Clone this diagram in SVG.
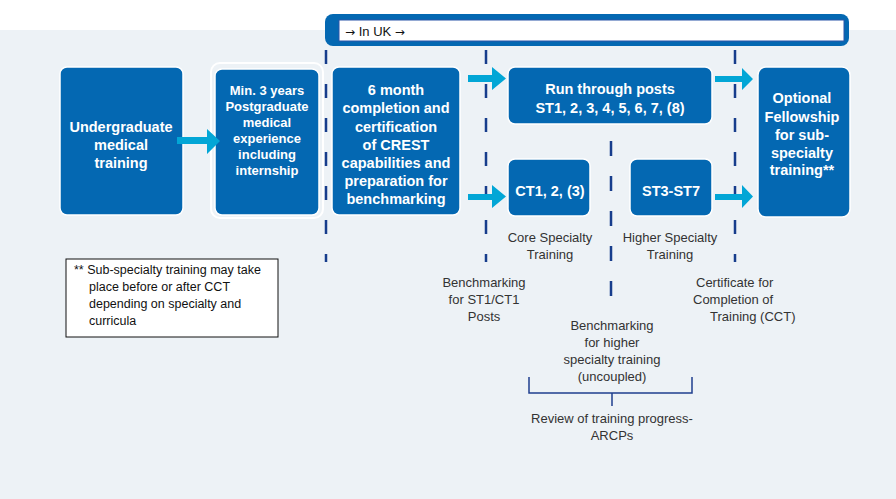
<svg xmlns="http://www.w3.org/2000/svg" width="896" height="499" viewBox="0 0 896 499">
<style>
.box{fill:#0468b2;stroke:#ffffff;stroke-width:1.5}
.bt{font-family:"Liberation Sans",Arial,sans-serif;font-weight:bold;font-size:14.5px;fill:#ffffff;text-anchor:middle}
.bs{font-size:13px}
.lbl{font-family:"Liberation Sans",Arial,sans-serif;font-size:13px;fill:#333333;text-anchor:middle}
.fn{font-family:"Liberation Sans",Arial,sans-serif;font-size:12.5px;fill:#111111}
.dash{stroke:#173d8c;stroke-width:2.5;stroke-dasharray:14 20;fill:none}
.arr{fill:#02a6d6}
.br{stroke:#1f3f8f;stroke-width:1.5;fill:none}
</style>
<rect x="0" y="0" width="896" height="499" fill="#ffffff"/>
<rect x="0" y="30" width="896" height="469" fill="#edf2f6"/>

<g id="in-uk">
<rect x="325" y="14" width="524" height="32" rx="8" fill="#0468b2"/>
<rect x="339" y="20" width="505" height="21" fill="#ffffff" stroke="#2a55a8" stroke-width="1"/>
<text x="345" y="36" font-family="Liberation Sans, Arial, sans-serif" font-size="13" fill="#111111"><tspan font-family="DejaVu Sans, sans-serif" font-size="12">→</tspan> In UK <tspan font-family="DejaVu Sans, sans-serif" font-size="12">→</tspan></text>
</g>

<g id="dividers">
<line class="dash" x1="326" y1="50" x2="326" y2="262"/>
<line class="dash" x1="486" y1="50" x2="486" y2="262"/>
<line class="dash" x1="735" y1="50" x2="735" y2="262"/>
<line class="dash" x1="611" y1="141" x2="611" y2="298" style="stroke-dasharray:15 20"/>
</g>

<g id="undergrad">
<rect class="box" x="60" y="67" width="123" height="148" rx="7"/>
<text class="bt"><tspan x="121" y="132">Undergraduate</tspan><tspan x="121" y="150">medical</tspan><tspan x="121" y="168">training</tspan></text>
</g>

<g id="min3years">
<rect x="211" y="63" width="112" height="155" rx="9" fill="none" stroke="#ffffff" stroke-width="2"/>
<rect class="box" x="215" y="69" width="104" height="146" rx="7" stroke="none"/>
<text class="bt bs"><tspan x="267" y="95">Min. 3 years</tspan><tspan x="267" y="111">Postgraduate</tspan><tspan x="267" y="127">medical</tspan><tspan x="267" y="143">experience</tspan><tspan x="267" y="159">including</tspan><tspan x="267" y="175">internship</tspan></text>
</g>

<g id="crest">
<rect class="box" x="332" y="67" width="128" height="148" rx="7"/>
<text class="bt"><tspan x="396" y="95">6 month</tspan><tspan x="396" y="113">completion and</tspan><tspan x="396" y="132">certification</tspan><tspan x="396" y="150">of CREST</tspan><tspan x="396" y="168">capabilities and</tspan><tspan x="396" y="186">preparation for</tspan><tspan x="396" y="204">benchmarking</tspan></text>
</g>

<g id="runthrough">
<rect class="box" x="508" y="67" width="204" height="57" rx="7"/>
<text class="bt"><tspan x="610" y="94">Run through posts</tspan><tspan x="610" y="113">ST1, 2, 3, 4, 5, 6, 7, (8)</tspan></text>
</g>

<g id="ct">
<rect class="box" x="508" y="159" width="82" height="57" rx="7"/>
<text class="bt" x="550" y="196">CT1, 2, (3)</text>
</g>

<g id="st3">
<rect class="box" x="630" y="159" width="82" height="57" rx="7"/>
<text class="bt" x="671" y="196">ST3-ST7</text>
</g>

<g id="fellowship">
<rect class="box" x="758" y="67" width="92" height="150" rx="8"/>
<text class="bt"><tspan x="802" y="103">Optional</tspan><tspan x="802" y="122">Fellowship</tspan><tspan x="802" y="140">for sub-</tspan><tspan x="802" y="158">specialty</tspan><tspan x="802" y="175">training**</tspan></text>
</g>

<g id="connectors">
<polygon class="arr" points="177,137 207,137 207,129 220,141 207,154 207,144 177,144"/>
<polygon class="arr" points="468,75 492,75 492,67 506,78.5 492,90 492,82 468,82"/>
<polygon class="arr" points="468,194 492,194 492,185 506,196.5 492,208 492,200 468,200"/>
<polygon class="arr" points="715,76 742,76 742,68 753,79 742,90 742,82 715,82"/>
<polygon class="arr" points="715,194 742,194 742,185 753,196.5 742,208 742,200 715,200"/>
<path class="br" d="M529,377 V393 H692 V377 M612,393 V406"/>
</g>

<g id="labels">
<text class="lbl"><tspan x="550" y="242">Core Specialty</tspan><tspan x="550" y="259">Training</tspan></text>
<text class="lbl"><tspan x="670" y="242">Higher Specialty</tspan><tspan x="670" y="259">Training</tspan></text>
<text class="lbl"><tspan x="484" y="287">Benchmarking</tspan><tspan x="484" y="304">for ST1/CT1</tspan><tspan x="484" y="321">Posts</tspan></text>
<text class="lbl" style="text-anchor:start"><tspan x="696" y="287">Certificate for</tspan><tspan x="693" y="304">Completion of</tspan><tspan x="710" y="321">Training (CCT)</tspan></text>
<text class="lbl"><tspan x="612" y="330">Benchmarking</tspan><tspan x="612" y="347">for higher</tspan><tspan x="612" y="364">specialty training</tspan><tspan x="612" y="381">(uncoupled)</tspan></text>
<text class="lbl"><tspan x="612" y="423">Review of training progress-</tspan><tspan x="612" y="440">ARCPs</tspan></text>
</g>

<g id="footnote">
<rect x="66" y="259" width="212" height="78" fill="#ffffff" stroke="#111111" stroke-width="1"/>
<text class="fn"><tspan x="74" y="274">** Sub-specialty training may take</tspan><tspan x="89" y="291">place before or after CCT</tspan><tspan x="89" y="308">depending on specialty and</tspan><tspan x="89" y="325">curricula</tspan></text>
</g>
</svg>
